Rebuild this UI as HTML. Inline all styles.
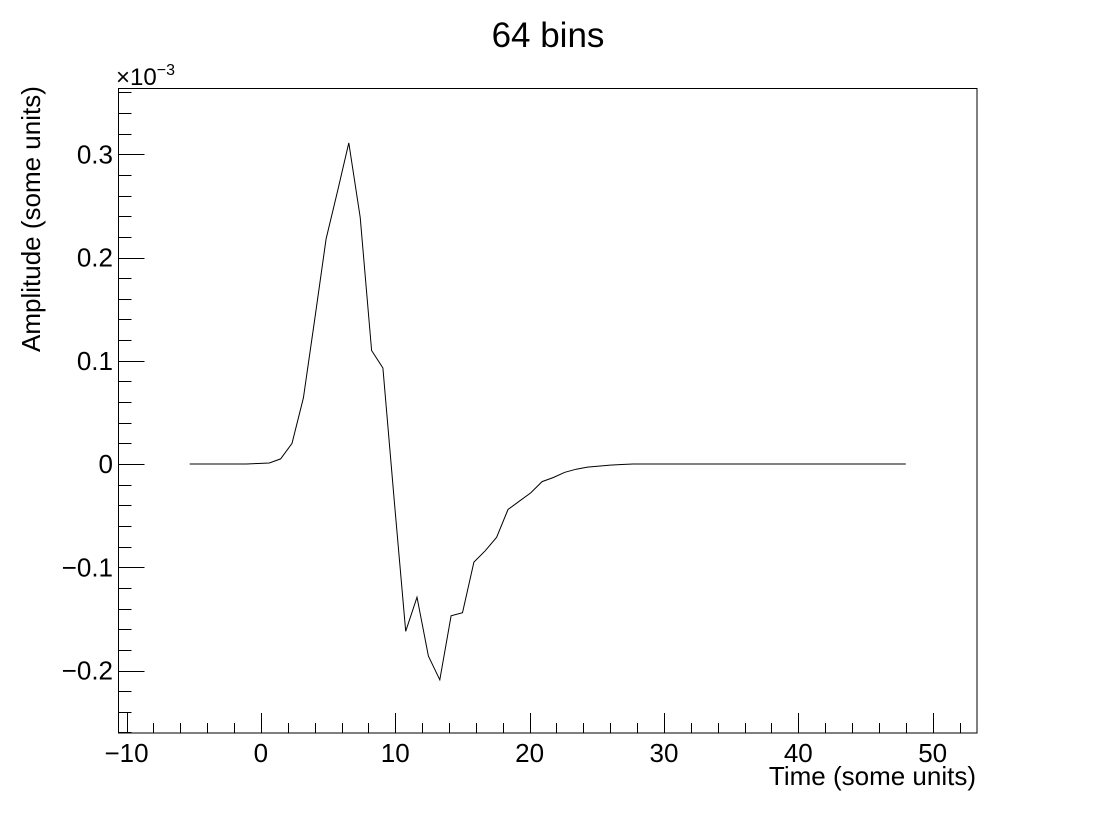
<!DOCTYPE html>
<html><head><meta charset="utf-8"><style>
body{margin:0;background:#fff;}
svg text{font-family:"Liberation Sans",sans-serif;}
</style></head><body>
<svg width="1096" height="822" viewBox="0 0 1096 822" xmlns="http://www.w3.org/2000/svg">
<rect width="1096" height="822" fill="#fff"/>
<text x="548" y="47" font-size="35" text-anchor="middle">64 bins</text>
<g id="axes"></g>
<path id="line" fill="none" stroke="#000" stroke-width="1"/>
<rect x="118.5" y="88.5" width="858.5" height="644.5" fill="none" stroke="#000" stroke-width="1"/>
<text x="116" y="85" font-size="24">×10<tspan font-size="16" dy="-10">−3</tspan></text>
<text x="976" y="785" font-size="26" text-anchor="end">Time (some units)</text>
<text transform="translate(40,352) rotate(-90)" font-size="26">Amplitude (some units)</text>
</svg>
<script>
const xStart = -5.3, xStep = 0.846;
const amplitudes = [0,0,0,0,0,0,0.0005,0.001,0.005,0.02,0.064,0.14,0.218,0.264,0.311,0.239,0.11,0.093,-0.036,-0.162,-0.129,-0.186,-0.209,-0.147,-0.144,-0.095,-0.084,-0.071,-0.044,-0.036,-0.028,-0.017,-0.013,-0.008,-0.005,-0.003,-0.002,-0.001,-0.0005,0,0,0,0,0,0,0,0,0,0,0,0,0,0,0,0,0,0,0,0,0,0,0,0,0];
const xTicks = [-10,0,10,20,30,40,50];
const yTicks = [-0.2,-0.1,0,0.1,0.2,0.3];
const xMin=-10.6, xMax=53.3, yMin=-0.2605, yMax=0.3637;
const L=118.5,R=977,T=88.5,B=733;
const sx=v=>L+(v-xMin)/(xMax-xMin)*(R-L);
const sy=v=>B-(v-yMin)/(yMax-yMin)*(B-T);
const NS="http://www.w3.org/2000/svg";
const g=document.getElementById('axes');
function ln(x1,y1,x2,y2,name){const l=document.createElementNS(NS,'line');
l.setAttribute('x1',x1);l.setAttribute('y1',y1);l.setAttribute('x2',x2);l.setAttribute('y2',y2);l.setAttribute('stroke','#000');


g.appendChild(l);}
function tx(x,y,s,anchor,name){const t=document.createElementNS(NS,'text');
t.setAttribute('x',x);t.setAttribute('y',y);t.setAttribute('font-size','26');t.setAttribute('text-anchor',anchor);t.textContent=s;


g.appendChild(t);}
for(let v=-10;v<=52;v+=2){const x=Math.round(sx(v))+0.5;const major=v%10===0;ln(x,B,x,B-(major?20:10),major?'x-major-tick':'x-minor-tick');}
xTicks.forEach(v=>tx(sx(v),762,(v<0?'−':'')+Math.abs(v),'middle','x-tick-label'));
for(let k=-13;k<=18;k++){const v=k*0.02;if(v<yMin||v>yMax)continue;const y=Math.round(sy(v))+0.5;const major=k%5===0;ln(L,y,L+(major?26:13),y,major?'y-major-tick':'y-minor-tick');}
yTicks.forEach(v=>{const s=v===0?'0':(v<0?'−':'')+Math.abs(v).toFixed(1);tx(113,sy(v)+9,s,'end','y-tick-label');});
let d='';amplitudes.forEach((a,i)=>{d+=(i?'L':'M')+sx(xStart+i*xStep).toFixed(1)+' '+sy(a).toFixed(1);});
document.getElementById('line').setAttribute('d',d);
</script>
</body></html>
